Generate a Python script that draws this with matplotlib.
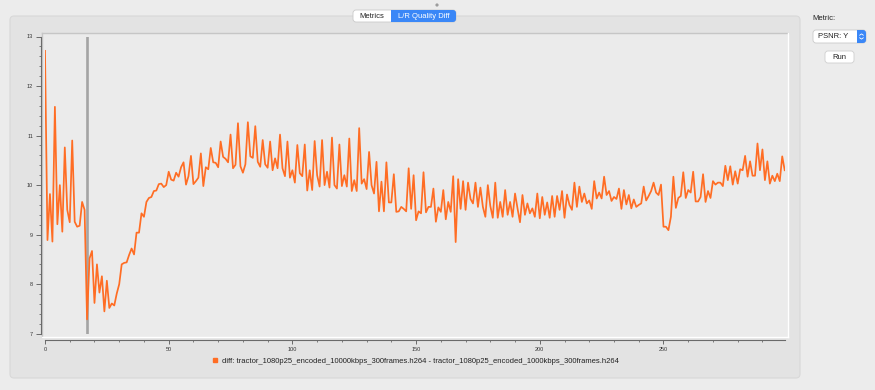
import matplotlib
matplotlib.use("Agg")
import matplotlib.pyplot as plt
from matplotlib.patches import FancyBboxPatch, Circle
from matplotlib.lines import Line2D
from matplotlib.ticker import MultipleLocator
from matplotlib.transforms import IdentityTransform

W, H = 875, 390

# ---- data ----
frames = list(range(300))
diff_psnr_y = [
    12.71, 8.89, 9.82, 8.86, 11.58, 9.21, 10.00, 9.06, 10.76, 9.50,
    9.25, 10.90, 9.26, 9.16, 9.18, 9.66, 9.50, 7.29, 8.52, 8.67,
    7.62, 8.40, 7.83, 8.16, 7.45, 8.07, 7.52, 7.61, 7.57, 7.81,
    8.00, 8.40, 8.43, 8.44, 8.59, 8.72, 8.60, 9.04, 9.04, 9.43,
    9.36, 9.66, 9.74, 9.76, 9.88, 9.89, 10.02, 10.03, 9.96, 10.00,
    10.27, 10.11, 10.09, 10.25, 10.17, 10.36, 10.46, 10.01, 10.18, 10.59,
    10.02, 10.08, 10.15, 10.64, 9.98, 10.36, 10.32, 10.75, 10.46, 10.45,
    10.36, 10.88, 10.57, 10.53, 10.46, 11.02, 10.34, 10.41, 11.25, 10.38,
    10.25, 10.42, 11.27, 10.58, 10.55, 11.19, 10.47, 10.37, 10.91, 10.42,
    10.35, 10.88, 10.30, 10.54, 10.34, 11.02, 10.34, 10.18, 10.88, 10.15,
    10.30, 10.05, 10.81, 10.24, 10.18, 10.82, 9.89, 10.30, 9.90, 10.89,
    10.20, 9.97, 10.91, 10.00, 10.27, 9.95, 10.96, 10.00, 9.93, 10.82,
    9.98, 10.20, 9.97, 10.94, 9.88, 10.10, 9.88, 11.15, 10.03, 10.12,
    9.92, 10.67, 10.00, 9.83, 10.47, 9.47, 10.07, 9.47, 10.46, 9.65,
    9.65, 10.22, 9.46, 9.47, 9.56, 9.52, 9.47, 10.34, 9.52, 10.20,
    9.29, 9.47, 9.43, 10.26, 9.45, 9.56, 9.56, 9.93, 9.26, 9.55,
    9.46, 9.90, 9.31, 9.66, 9.46, 10.18, 8.85, 10.12, 9.52, 10.08,
    9.50, 10.05, 9.72, 9.63, 10.05, 9.56, 9.95, 9.56, 9.36, 10.00,
    9.58, 9.34, 10.05, 9.34, 9.66, 9.36, 9.90, 9.40, 9.66, 9.36,
    9.83, 9.53, 9.25, 9.80, 9.40, 9.63, 9.43, 9.53, 9.36, 9.83,
    9.33, 9.76, 9.40, 9.65, 9.34, 9.78, 9.36, 9.78, 9.50, 9.88,
    9.34, 9.81, 9.60, 9.50, 10.05, 9.56, 9.97, 9.66, 9.83, 9.63,
    9.69, 9.52, 10.08, 9.73, 9.85, 9.73, 10.17, 9.80, 9.88, 9.68,
    9.76, 9.72, 9.93, 9.52, 9.90, 9.61, 9.80, 9.53, 9.71, 9.56,
    9.60, 9.63, 9.97, 9.69, 9.78, 9.88, 10.05, 9.85, 9.80, 10.01,
    9.16, 9.16, 9.09, 9.36, 10.17, 9.54, 9.74, 9.78, 10.26, 9.74,
    9.90, 9.85, 10.27, 9.67, 9.67, 9.76, 10.22, 9.66, 9.88, 9.74,
    10.08, 10.01, 10.05, 10.05, 9.98, 10.39, 10.10, 10.38, 10.01, 10.28,
    10.03, 10.32, 10.30, 10.59, 10.17, 10.48, 10.19, 10.19, 10.84, 10.30,
    10.72, 10.10, 10.48, 10.03, 10.19, 10.08, 10.23, 10.08, 10.58, 10.30,
]
marker_frame = 17
legend_label = ("diff: tractor_1080p25_encoded_10000kbps_300frames.h264 - "
                "tractor_1080p25_encoded_1000kbps_300frames.h264")
tab_labels = ["Metrics", "L/R Quality Diff"]
metric_choice = "PSNR: Y"

ORANGE = "#ff6d24"
BLUE = "#3a87f7"

plt.rcParams["font.family"] = ["Liberation Sans", "DejaVu Sans"]

fig = plt.figure(figsize=(W / 100, H / 100), dpi=100)
fig.patch.set_facecolor("#ececec")
PX = IdentityTransform()


def box(x0, y0, x1, y1, fc, ec="none", r=0, lw=0.8, z=-5):
    # pixel box, origin top-left like the screenshot
    style = f"round,pad=0,rounding_size={r}" if r else "square,pad=0"
    fig.add_artist(FancyBboxPatch((x0, H - y1), x1 - x0, y1 - y0, boxstyle=style,
                                  fc=fc, ec=ec, lw=lw, transform=PX, zorder=z))


def hline(x0, x1, y, color, lw=1, z=-4):
    fig.add_artist(Line2D([x0, x1], [H - y, H - y], color=color, lw=lw, transform=PX, zorder=z))


def vline(x, y0, y1, color, lw=1, z=-4):
    fig.add_artist(Line2D([x, x], [H - y0, H - y1], color=color, lw=lw, transform=PX, zorder=z))


def label(x, y, s, **kw):
    kw.setdefault("fontsize", 5.5)
    kw.setdefault("va", "center")
    fig.text(x / W, 1 - y / H, s, **kw)


# panel + sunken plot area
box(10, 16, 800, 378, "#e3e3e3", ec="#d8d8d8", r=4, z=-6)
box(42, 33, 788, 337, "#ebebeb", z=-5)
hline(42, 788, 33, "#c6c6c6")
vline(42, 33, 337, "#c6c6c6")
hline(42, 788, 337, "#ffffff")
vline(788, 33, 337, "#ffffff")

# ---- chart ----
x0, x1 = 45, 784.7
ytop, ybot = 36.5, 333.7
ax = fig.add_axes([x0 / W, (H - ybot) / H, (x1 - x0) / W, (ybot - ytop) / H])
ax.set_facecolor("none")
ax.axvline(marker_frame, color="#a4a4a4", lw=1.9, zorder=1)
ax.plot(frames, diff_psnr_y, color=ORANGE, lw=1.25, zorder=2)
ax.set_xlim(0, 299)
ax.set_ylim(7, 13)

for s in ("top", "right"):
    ax.spines[s].set_visible(False)
ax.spines["left"].set_position(("outward", 3.1))
ax.spines["bottom"].set_position(("outward", 4.2))
ax.spines["left"].set_bounds(7, 13)
ax.spines["bottom"].set_bounds(0, 299)
for s in ("left", "bottom"):
    ax.spines[s].set_color("#6a6a6a")
    ax.spines[s].set_linewidth(0.8)

ax.xaxis.set_major_locator(MultipleLocator(50))
ax.xaxis.set_minor_locator(MultipleLocator(10))
ax.yaxis.set_major_locator(MultipleLocator(1))
ax.yaxis.set_minor_locator(MultipleLocator(0.2))
ax.tick_params(axis="y", which="major", length=3.4, width=0.7, color="#6a6a6a",
               labelsize=4, labelcolor="#333333", pad=2)
ax.tick_params(axis="y", which="minor", length=1.8, width=0.6, color="#6a6a6a")
ax.tick_params(axis="x", which="major", length=2.6, width=0.7, color="#6a6a6a",
               labelsize=4, labelcolor="#333333", pad=3)
ax.tick_params(axis="x", which="minor", length=1.6, width=0.6, color="#6a6a6a")

handle = Line2D([], [], ls="none", marker="s", markersize=3.3, color=ORANGE)
fig.legend([handle], [legend_label], loc="center",
           bbox_to_anchor=(415 / W, 1 - 361 / H), frameon=False,
           fontsize=5.5, handletextpad=0.3, handlelength=1.0, labelcolor="#222222")

# ---- window widgets ----
box(353, 10, 456, 22, "#ffffff", ec="#c9c9c9", r=3, lw=0.6, z=-3)
box(391, 10, 456, 22, BLUE, r=3, z=-2)
box(391, 10, 396, 22, BLUE, z=-2)
label(372, 16.2, tab_labels[0], ha="center", color="#222222")
label(423.5, 16.2, tab_labels[1], ha="center", color="#ffffff")
fig.add_artist(Circle((437, H - 5), 1.6, fc="#9c9c9c", ec="none", transform=PX))

label(812, 18.5, "Metric:", ha="left", color="#222222")
box(813, 30, 866, 43, "#ffffff", ec="#c9c9c9", r=3, lw=0.6, z=-3)
box(857, 30, 866, 43, BLUE, r=3, z=-2)
box(857, 30, 861, 43, BLUE, z=-2)
label(818, 36.6, metric_choice, ha="left", color="#222222")
for sgn in (1, -1):
    yc = H - 36.5 + sgn * 2.2
    fig.add_artist(Line2D([859.7, 861.5, 863.3], [yc - sgn * 0.9, yc + sgn * 0.4, yc - sgn * 0.9],
                          color="#ffffff", lw=0.6, transform=PX))
box(825, 51, 854, 63, "#ffffff", ec="#cfcfcf", r=3, lw=0.6, z=-3)
label(839.5, 57.2, "Run", ha="center", color="#222222")

fig.savefig("out.png", dpi=100, facecolor=fig.get_facecolor())
